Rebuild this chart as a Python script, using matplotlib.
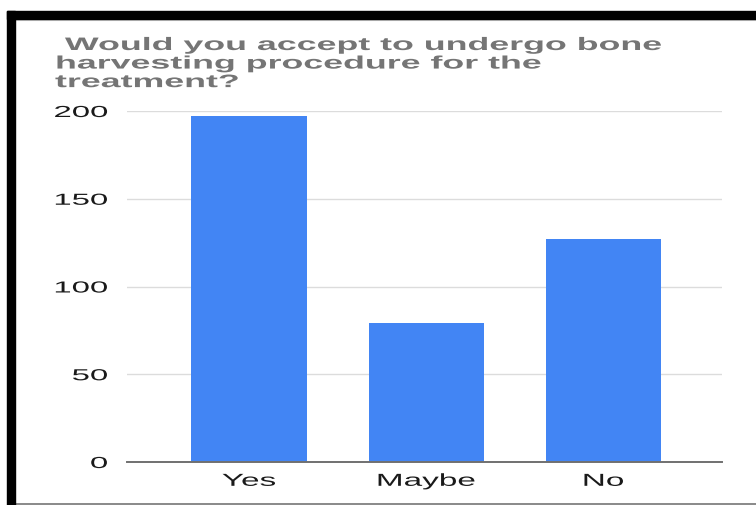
import matplotlib
matplotlib.use("Agg")
import matplotlib.pyplot as plt
from matplotlib.patches import Rectangle
from matplotlib.patheffects import AbstractPathEffect
from matplotlib.transforms import Affine2D
from matplotlib.lines import Line2D

# ---- data ----
categories = ["Yes", "Maybe", "No"]
values = [197, 79, 127]
y_ticks = [0, 50, 100, 150, 200]
y_tick_labels = ["0", "50", "100", "150", "200"]
title_text = " Would you accept to undergo bone\nharvesting procedure for the\ntreatment?"

BAR_COLOR = "#4285F4"
W, H = 756, 506


class HStretch(AbstractPathEffect):
    """Widen glyphs horizontally (the reference screenshot is stretched)."""
    def __init__(self, sx, anchor="left"):
        super().__init__()
        self.sx = sx
        self.anchor = anchor

    def draw_path(self, renderer, gc, tpath, affine, rgbFace=None):
        x0 = 0.0
        if len(tpath.vertices):
            ext = tpath.get_extents()
            if self.anchor == "right":
                x0 = ext.x1
            elif self.anchor == "center":
                x0 = 0.5 * (ext.x0 + ext.x1)
        t = Affine2D().translate(-x0, 0).scale(self.sx, 1).translate(x0, 0) + affine
        renderer.draw_path(gc, tpath, t, rgbFace)


plt.rcParams["font.family"] = ["Liberation Sans", "DejaVu Sans"]

fig = plt.figure(figsize=(W / 100, H / 100), dpi=100)
fig.patch.set_facecolor("white")

def px_x(x):
    return x / W

def px_y(y):
    return 1 - y / H

ax = fig.add_axes([px_x(127), px_y(463), px_x(722) - px_x(127), px_y(112) - px_y(463)])

x = list(range(len(categories)))
ax.bar(x, values, width=0.65, color=BAR_COLOR, zorder=3)

ax.set_xlim(-0.688, 2.669)
ax.set_ylim(0, 200)
ax.set_yticks(y_ticks)
ax.set_yticklabels(y_tick_labels)
ax.set_xticks(x)
ax.set_xticklabels(categories)

ax.grid(axis="y", color="#dcdcdc", linewidth=1.0, zorder=0)
ax.grid(axis="x", visible=False)
for s in ["top", "right", "left"]:
    ax.spines[s].set_visible(False)
ax.spines["bottom"].set_color("#707070")
ax.spines["bottom"].set_linewidth(1.4)
ax.spines["bottom"].set_zorder(4)

ax.tick_params(axis="y", length=0, pad=14, labelsize=11.5, labelcolor="#1a1a1a")
ax.tick_params(axis="x", length=0, pad=8.5, labelsize=12.5, labelcolor="#1a1a1a")

for lbl in ax.get_yticklabels():
    lbl.set_path_effects([HStretch(2.06, "right")])
for lbl in ax.get_xticklabels():
    lbl.set_path_effects([HStretch(1.92, "center")])

t = fig.text(px_x(55), px_y(38), title_text, ha="left", va="top",
             fontsize=13, fontweight="bold", color="#757575", linespacing=1.12)
t.set_path_effects([HStretch(1.98, "left")])

# ---- screenshot frame ----
fig.add_artist(Rectangle((px_x(7), px_y(20)), 1 - px_x(7), px_y(11.7) - px_y(20),
                         transform=fig.transFigure, color="black", zorder=10))
fig.add_artist(Rectangle((px_x(7), 0), px_x(15) - px_x(7), px_y(11.7),
                         transform=fig.transFigure, color="black", zorder=10))
fig.add_artist(Line2D([px_x(15), 1], [px_y(20.5), px_y(20.5)], transform=fig.transFigure,
                      color="#d0d0d0", linewidth=0.8, zorder=9))
fig.add_artist(Line2D([px_x(15), 1], [px_y(504.5), px_y(504.5)], transform=fig.transFigure,
                      color="#808080", linewidth=1.3, zorder=9))

fig.savefig("out.png", dpi=100)
